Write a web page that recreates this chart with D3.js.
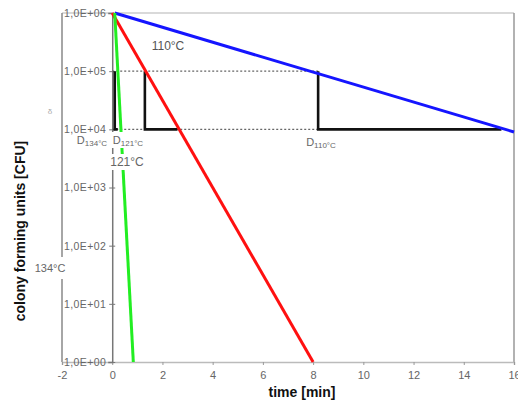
<!DOCTYPE html>
<html>
<head>
<meta charset="utf-8">
<script src="https://cdn.jsdelivr.net/npm/d3@7"></script>
<style>
  body { margin: 0; background: #fff; }
  svg text { font-family: "Liberation Sans", Arial, sans-serif; }
</style>
</head>
<body>
<div id="chart"></div>
<script>
// curves: [time min, CFU]
let curve110 = [[0.1, 1e6], [16, 9e3]];
let curve121 = [[0, 1e6], [8, 1]];
let curve134 = [[0.1, 1e6], [0.84, 1]];
// D-value triangles: [t at 1E+05, t at 1E+04 on curve]
let dTri110 = [8.2, 15.5];
let dTri121 = [1.3, 2.6];
let dTri134 = [0.1, 0.22];
let refLevels = [1e5, 1e4];
let refEnd = 8.2;
let xTicks = [-2, 0, 2, 4, 6, 8, 10, 12, 14, 16];
let yTicks = [1, 10, 100, 1e3, 1e4, 1e5, 1e6];

let width = 518, height = 403;
let x = d3.scaleLinear().domain([-2, 16]).range([62, 514]);
let y = d3.scaleLog().domain([1, 1e6]).range([362, 13]);

let svg = d3.select('#chart').append('svg')
    .attr('width', width)
    .attr('height', height);

// frame
svg.append('line').attr('x1', x(-2)).attr('x2', x(16)).attr('y1', y(1e6)).attr('y2', y(1e6))
    .attr('stroke', '#ccc').attr('stroke-width', 1.5);
svg.append('line').attr('x1', x(16)).attr('x2', x(16)).attr('y1', y(1e6)).attr('y2', y(1))
    .attr('stroke', '#999').attr('stroke-width', 1.5);
svg.append('line').attr('x1', x(-2)).attr('x2', x(-2)).attr('y1', y(1e6)).attr('y2', y(1))
    .attr('stroke', '#888').attr('stroke-width', 1.5);

// x axis
let xAxis = svg.append('g')
    .attr('transform', `translate(0,${y(1)})`)
    .call(d3.axisBottom(x).tickValues(xTicks).tickSize(3).tickPadding(6).tickFormat(d => String(d)));
xAxis.select('.domain').attr('stroke', '#bbb').attr('stroke-width', 1.5);
xAxis.selectAll('.tick line').attr('stroke', '#999');
xAxis.selectAll('text').attr('fill', '#666').style('font-size', '11px');

// y axis at t = 0
let yAxis = svg.append('g')
    .attr('transform', `translate(${x(0)},0)`)
    .call(d3.axisLeft(y).tickValues(yTicks).tickSize(4).tickPadding(2)
        .tickFormat(d => '1,0E+' + String(Math.round(Math.log10(d))).padStart(2, '0')));
yAxis.select('.domain').attr('stroke', '#777').attr('stroke-width', 1.5);
yAxis.selectAll('.tick line').attr('stroke', '#777').attr('x2', 3).attr('x1', -3);
yAxis.selectAll('text').attr('fill', '#666').style('font-size', '10.5px').attr('letter-spacing', '0.4px');

// dotted reference lines
refLevels.forEach(level => {
    svg.append('line')
        .attr('x1', x(0)).attr('x2', x(refEnd))
        .attr('y1', y(level)).attr('y2', y(level))
        .attr('stroke', '#666').attr('stroke-width', 1.2)
        .attr('stroke-dasharray', '2,2');
});

let line = d3.line().x(d => x(d[0])).y(d => y(d[1]));

// D-value triangles
function drawTriangle(tri) {
    svg.append('path')
        .attr('d', line([[tri[0], 1e5], [tri[0], 1e4], [tri[1], 1e4]]))
        .attr('fill', 'none')
        .attr('stroke', '#111')
        .attr('stroke-width', 2.6);
}
drawTriangle(dTri110);
drawTriangle(dTri121);
drawTriangle(dTri134);

let curves = [
    {data: curve110, color: '#1515ff'},
    {data: curve121, color: '#ff1010'},
    {data: curve134, color: '#22ee22'}
];
curves.forEach(c => {
    svg.append('path')
        .attr('d', line(c.data))
        .attr('fill', 'none')
        .attr('stroke', c.color)
        .attr('stroke-width', 3);
});

// labels with white background
function label(cx, cy, bw, bh, build) {
    svg.append('rect')
        .attr('x', cx - bw / 2).attr('y', cy - bh / 2)
        .attr('width', bw).attr('height', bh)
        .attr('fill', '#fff');
    let t = svg.append('text')
        .attr('x', cx).attr('y', cy + 4)
        .attr('text-anchor', 'middle')
        .attr('fill', '#666')
        .style('font-size', '11px');
    build(t);
}
function dLabel(t, sub) {
    t.append('tspan').text('D');
    t.append('tspan').style('font-size', '8px').attr('dy', 2).text(sub);
}

svg.append('text').attr('x', 168).attr('y', 50).attr('text-anchor', 'middle')
    .attr('fill', '#555').style('font-size', '12px').text('110°C');
label(92, 140, 30, 14, t => dLabel(t, '134°C'));
label(128, 140, 36, 16, t => dLabel(t, '121°C'));
label(127, 162, 36, 16, t => t.style('font-size', '12px').text('121°C'));
label(50, 268, 34, 22, t => t.text('134°C'));
svg.append('text').attr('x', 321).attr('y', 146).attr('text-anchor', 'middle')
    .attr('fill', '#666').style('font-size', '11px')
    .call(t => dLabel(t, '110°C'));
svg.append('text').attr('x', 50).attr('y', 114).attr('text-anchor', 'middle')
    .attr('fill', '#aaa').style('font-size', '8px').text('δ');

// axis titles
svg.append('text')
    .attr('transform', `translate(25,231) rotate(-90)`)
    .attr('text-anchor', 'middle')
    .style('font-size', '14px').style('font-weight', 'bold')
    .attr('fill', '#111')
    .text('colony forming units [CFU]');
svg.append('text')
    .attr('x', 302).attr('y', 397)
    .attr('text-anchor', 'middle')
    .style('font-size', '14px').style('font-weight', 'bold')
    .attr('fill', '#111')
    .text('time [min]');
</script>
</body>
</html>
